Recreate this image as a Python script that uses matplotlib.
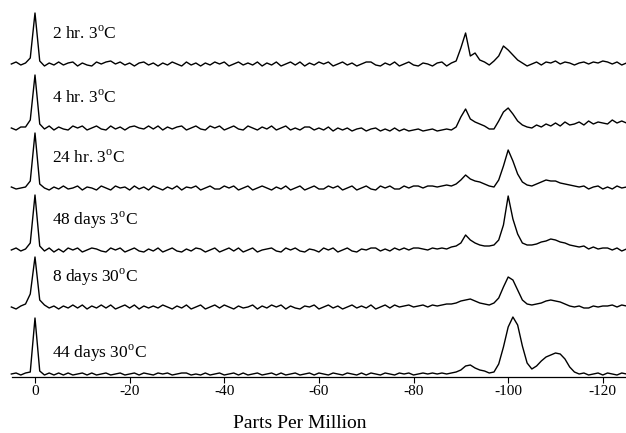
import matplotlib
matplotlib.use("Agg")
import matplotlib.pyplot as plt
import numpy as np

# ==========================================================
# 1. データ（図から読み取ったスペクトル強度, 1 ppm 刻み）
# ==========================================================
# 化学シフト軸: +5 ppm から -125 ppm まで 1 ppm 刻み
ppm = np.arange(5, -126, -1)

labels = [
    "2 hr. 3$^{\\mathrm{o}}$C",
    "4 hr. 3$^{\\mathrm{o}}$C",
    "24 hr. 3$^{\\mathrm{o}}$C",
    "48 days 3$^{\\mathrm{o}}$C",
    "8 days 30$^{\\mathrm{o}}$C",
    "44 days 30$^{\\mathrm{o}}$C",
]

# 各スペクトルの縦方向オフセット（上から順に）
offsets = [310, 246, 186, 124, 67, 0]

spec_2hr = [
    0, 2, -1, 1, 6, 51, 3, -2, 1, -1,
    2, -1, 1, 2, -2, 1, -1, -2, 2, 0,
    2, 3, 0, 2, -1, 1, -2, 1, 2, -1,
    1, -2, 1, -1, 2, 0, -2, 2, -1, 1,
    -2, 1, -1, 2, 0, 2, -2, 0, 2, -1,
    1, -1, 2, -2, 1, -1, 2, -2, 0, 2,
    -1, 2, -2, 1, -1, 2, 0, 2, -2, 0,
    2, -1, 1, -2, 0, 2, 2, -1, -2, 1,
    -1, 2, -2, 0, 2, -1, -2, 1, 0, -2,
    1, 2, -2, 1, 3, 16, 31, 8, 11, 4,
    2, -1, 3, 8, 18, 14, 9, 4, 1, -2,
    0, 2, -1, 2, 1, 3, 0, 2, 1, -1,
    1, 2, 0, 2, 1, 3, 2, 0, 2, -1,
    1,
]

spec_4hr = [
    0, -2, 1, 1, 8, 53, 4, -1, 2, -2,
    1, -1, -2, 2, 0, 2, -2, 0, 2, -1,
    -2, 2, -1, 1, -2, 1, 2, 0, -1, 2,
    -1, 2, -2, 1, -1, 1, 2, -2, 0, 2,
    -1, -2, 2, 0, 2, -2, 0, 2, -1, -2,
    2, 0, -2, 1, -1, 2, -2, 0, 2, -2,
    0, -2, 1, 1, -2, 0, -2, 1, -3, 0,
    -2, 0, -3, -1, 0, -3, -1, 0, -3, -1,
    -3, 0, -3, -1, -3, -2, -1, -3, -2, -1,
    -3, -2, -1, -2, 1, 11, 19, 9, 6, 4,
    2, -1, -1, 7, 16, 20, 14, 7, 3, 1,
    0, 3, 1, 4, 2, 5, 2, 6, 3, 4,
    6, 3, 7, 4, 6, 5, 4, 8, 5, 7,
    5,
]

spec_24hr = [
    1, -1, 0, 1, 7, 55, 4, 0, -2, 1,
    -1, 2, -1, 0, 2, -2, 1, 0, -2, 2,
    0, -2, 2, 0, 1, -2, 2, -1, 1, -2,
    2, 0, -2, 1, -1, 2, -2, 1, 0, 2,
    -2, 0, 2, -1, -1, 2, 0, 2, -2, 0,
    2, -2, 0, 2, 0, -2, 1, -1, 2, -2,
    0, 2, -2, 0, 2, -1, -1, 2, 0, 2,
    -2, 0, 2, -2, 0, 2, -1, -2, 2, 0,
    2, -1, -1, 2, 0, 2, 2, 0, 2, 2,
    1, 2, 3, 2, 4, 8, 13, 9, 7, 6,
    4, 2, 1, 8, 22, 38, 27, 14, 6, 3,
    2, 4, 6, 8, 7, 7, 5, 4, 3, 2,
    1, 2, -1, 1, 2, -1, 1, -1, 2, 0,
    1,
]

spec_48d = [
    0, 2, -1, 1, 7, 55, 4, -1, 2, -2,
    1, -2, 2, 0, 2, -2, 0, 2, 1, -1,
    -2, 2, 0, 2, -2, 0, 2, -1, -2, 1,
    -1, 2, -2, 0, 2, -1, -2, 1, -1, 2,
    1, -2, 0, 2, -2, 0, 2, -1, 2, -2,
    0, 2, -2, 0, 1, 2, -1, -2, 2, 0,
    2, -1, -2, 1, 0, -2, 2, 0, 2, -2,
    0, 2, -1, -2, 1, 0, 2, 2, -1, 1,
    -1, 2, 0, 2, 0, 2, 2, 1, 0, 2,
    1, 2, 1, 3, 4, 7, 15, 10, 7, 5,
    4, 4, 5, 10, 25, 54, 31, 16, 7, 5,
    5, 6, 8, 9, 11, 10, 8, 7, 5, 4,
    3, 4, 1, 3, 1, 2, 2, 0, 2, -1,
    1,
]

spec_8d_30 = [
    0, -2, 1, 3, 13, 50, 7, 2, -1, 1,
    -2, 1, -1, 2, -1, 2, -2, 1, -1, 2,
    -1, 2, -2, 0, 2, -1, 2, -2, 1, -1,
    1, -1, 2, 0, -2, 1, -1, 2, -2, 0,
    2, -2, 0, 2, -1, 2, 0, -2, 1, -1,
    0, 2, -2, 1, -1, 2, 0, 2, -2, 1,
    -1, -2, 1, 0, 2, -2, 0, 2, -1, 1,
    -2, 0, 2, -1, 1, -1, 2, -2, 0, 2,
    -1, 2, 0, 1, 2, 0, 1, 2, 0, 2,
    1, 2, 3, 3, 4, 6, 7, 8, 6, 4,
    3, 2, 4, 9, 20, 30, 27, 17, 7, 3,
    2, 3, 4, 6, 7, 6, 5, 3, 1, 0,
    1, -1, -1, 1, 0, 1, 1, 2, 0, 2,
    1,
]

spec_44d_30 = [
    0, 1, -1, 1, 2, 56, 3, -1, 1, -1,
    1, -1, 1, -1, 0, 1, -1, 1, -1, 0,
    1, -1, 0, 1, -1, 0, 1, -1, 1, 0,
    -1, 1, 0, 1, -1, 0, 1, 1, -1, 0,
    -1, 1, -1, 0, 1, -1, 0, 1, -1, 1,
    -1, 0, 1, -1, 0, 1, -1, 1, -1, 0,
    1, -1, 0, 1, -1, 1, 0, -1, 1, 0,
    -1, 1, 0, -1, 1, -1, 1, 0, -1, 1,
    0, -1, 1, 0, 1, -1, 0, 1, 0, 1,
    0, 1, 0, 1, 2, 4, 8, 9, 6, 4,
    3, 1, 2, 10, 27, 47, 57, 49, 28, 11,
    5, 8, 13, 17, 19, 21, 20, 15, 7, 2,
    0, 1, -1, 0, 1, -1, 1, 0, -1, 1,
    0,
]

spectra = [spec_2hr, spec_4hr, spec_24hr, spec_48d, spec_8d_30, spec_44d_30]

xticks = [0, -20, -40, -60, -80, -100, -120]

# ==========================================================
# 2. 描画
# ==========================================================
plt.rcParams["font.family"] = "Liberation Serif"
plt.rcParams["mathtext.fontset"] = "custom"
plt.rcParams["mathtext.rm"] = "Liberation Serif"

fig = plt.figure(figsize=(6.26, 4.33), dpi=100)
ax = fig.add_axes([12 / 626, 56 / 433, 614 / 626, 377 / 433])

for spec, off, lab in zip(spectra, offsets, labels):
    y = np.array(spec, dtype=float) + off
    ax.plot(ppm, y, color="black", linewidth=1.0, clip_on=False)
    # ラベル位置は基線からの高さで決める
    dy = 21 if off == 0 else 30
    ax.text(-3.6, off + dy, lab, fontsize=12.5, ha="left", va="center")

ax.set_xlim(4.86, -124.9)
ax.set_ylim(-3, 374)
ax.set_xticks(xticks)
ax.set_xticklabels([str(t) for t in xticks], fontsize=11)
ax.tick_params(axis="x", direction="out", length=4, width=0.8, pad=2)
ax.set_yticks([])
for side in ["top", "left", "right"]:
    ax.spines[side].set_visible(False)
ax.spines["bottom"].set_linewidth(0.9)

fig.text(300 / 626, 1 - 424 / 433, "Parts Per Million", fontsize=14,
         ha="center", va="center")

fig.savefig("out.png", dpi=100)
